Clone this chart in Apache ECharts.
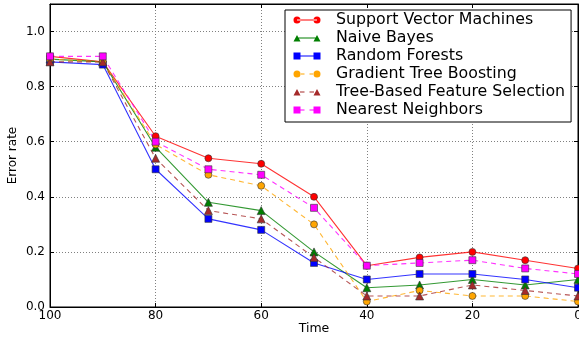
<!DOCTYPE html>
<html>
<head>
<meta charset="utf-8">
<script src="https://cdn.jsdelivr.net/npm/echarts@6/dist/echarts.min.js"></script>
<style>html,body{margin:0;padding:0;background:#fff}#c{width:579px;height:337px}</style>
</head>
<body>
<div id="c"></div>
<script>
const times = [100, 90, 80, 70, 60, 50, 40, 30, 20, 10, 0];
const seriesNames = ['Support Vector Machines', 'Naive Bayes', 'Random Forests', 'Gradient Tree Boosting', 'Tree-Based Feature Selection', 'Nearest Neighbors'];
const svm  = [0.91, 0.89, 0.62, 0.54, 0.52, 0.40, 0.15, 0.18, 0.20, 0.17, 0.14];
const nb   = [0.90, 0.89, 0.58, 0.38, 0.35, 0.20, 0.07, 0.08, 0.10, 0.08, 0.10];
const rf   = [0.89, 0.88, 0.50, 0.32, 0.28, 0.16, 0.10, 0.12, 0.12, 0.10, 0.07];
const gtb  = [0.90, 0.89, 0.59, 0.48, 0.44, 0.30, 0.02, 0.06, 0.04, 0.04, 0.02];
const tbfs = [0.89, 0.89, 0.54, 0.35, 0.32, 0.18, 0.04, 0.04, 0.08, 0.06, 0.04];
const nn   = [0.91, 0.91, 0.60, 0.50, 0.48, 0.36, 0.15, 0.16, 0.17, 0.14, 0.12];
const xTicks = [0, 20, 40, 60, 80, 100];
const yTicks = [0.0, 0.2, 0.4, 0.6, 0.8, 1.0];

const values = [svm, nb, rf, gtb, tbfs, nn];
const colors = ['#ff0000', '#007f00', '#0000ff', '#ffa500', '#a52a2a', '#ff00ff'];
const symbols = ['circle', 'triangle', 'rect', 'circle', 'triangle', 'rect'];
const dashed = [false, false, false, true, true, true];

const circ = (cx) => `M${cx-3.5},4 a3.5,3.5 0 1,0 7,0 a3.5,3.5 0 1,0 -7,0 Z `;
const tri = (cx) => `M${cx-3.5},7.5 L${cx},1 L${cx+3.5},7.5 Z `;
const sq = (cx) => `M${cx-3.5},0.5 L${cx+3.5},0.5 L${cx+3.5},7.5 L${cx-3.5},7.5 Z `;
const solidLine = 'M4,3.6 L24,3.6 L24,4.5 L4,4.5 Z ';
const dashLine = 'M7,3.6 L11.5,3.6 L11.5,4.5 L7,4.5 Z M16.5,3.6 L21,3.6 L21,4.5 L16.5,4.5 Z ';
function iconFor(i) {
  const m = symbols[i] === 'circle' ? circ : symbols[i] === 'triangle' ? tri : sq;
  return 'path://M0,0 M28,8 ' + m(4) + (dashed[i] ? dashLine : solidLine) + m(24);
}

const font = 'DejaVu Sans';
const chart = echarts.init(document.getElementById('c'));
chart.setOption({
  animation: false,
  backgroundColor: '#fff',
  grid: { left: 50, right: 1, top: 4, bottom: 30, outerBoundsMode: 'none', containLabel: false,
    show: true, borderColor: '#000', borderWidth: 1, backgroundColor: 'transparent' },
  legend: {
    orient: 'vertical', left: 285, top: 10,
    backgroundColor: '#fff', borderColor: '#000', borderWidth: 1,
    padding: [2, 6, 4, 8], itemGap: 2, itemWidth: 28, itemHeight: 8,
    itemStyle: { borderWidth: 0 },
    textStyle: { fontFamily: font, fontSize: 15.8, color: '#000', lineHeight: 16, padding: [0, 0, 0, 10] },
    data: seriesNames.map((n, i) => ({ name: n, icon: iconFor(i) }))
  },
  xAxis: [{
    type: 'value', min: 0, max: 100, interval: 20, inverse: true,
    name: 'Time', nameLocation: 'middle', nameGap: 15, nameMoveOverlap: false,
    nameTextStyle: { fontFamily: font, fontSize: 12.5, color: '#000' },
    axisLine: { show: true, onZero: false, lineStyle: { color: '#000', width: 1 } },
    axisTick: { show: true, inside: true, length: 4, lineStyle: { color: '#000' } },
    axisLabel: { fontFamily: font, fontSize: 12, color: '#000', margin: 3 },
    splitLine: { show: true, lineStyle: { color: '#808080', type: [1, 2], width: 1 } }
  }, {
    type: 'value', min: 0, max: 100, interval: 20, inverse: true, position: 'top',
    axisLine: { show: true, onZero: false, lineStyle: { color: '#000' } },
    axisTick: { show: true, inside: true, length: 4, lineStyle: { color: '#000' } },
    axisLabel: { show: false }, splitLine: { show: false }
  }],
  yAxis: [{
    type: 'value', min: 0, max: 1.1, interval: 0.2,
    name: 'Error rate', nameLocation: 'middle', nameGap: 31, nameMoveOverlap: false,
    nameTextStyle: { fontFamily: font, fontSize: 12, color: '#000' },
    axisLine: { show: true, onZero: false, lineStyle: { color: '#000', width: 1 } },
    axisTick: { show: true, inside: true, length: 4, lineStyle: { color: '#000' } },
    axisLabel: { fontFamily: font, fontSize: 12, color: '#000', margin: 5, showMaxLabel: false,
      formatter: v => (yTicks.some(t => Math.abs(t - v) < 1e-9) ? v.toFixed(1) : '') },
    splitLine: { show: true, lineStyle: { color: '#808080', type: [1, 2], width: 1 } }
  }, {
    type: 'value', min: 0, max: 1.1, interval: 0.2, position: 'right',
    axisLine: { show: true, onZero: false, lineStyle: { color: '#000' } },
    axisTick: { show: true, inside: true, length: 4, lineStyle: { color: '#000' } },
    axisLabel: { show: false }, splitLine: { show: false }
  }],
  series: seriesNames.map((n, i) => ({
    name: n, type: 'line', xAxisIndex: 0, yAxisIndex: 0,
    data: times.map((t, k) => [t, values[i][k]]),
    symbol: symbols[i], symbolSize: symbols[i] === 'triangle' ? 8 : 7,
    color: colors[i],
    itemStyle: { color: colors[i], borderColor: '#333', borderWidth: 0.6 },
    lineStyle: { color: colors[i], width: 1.1, opacity: 0.8, type: dashed[i] ? [5, 4] : 'solid' },
    emphasis: { disabled: true }
  }))
});
</script>
</body>
</html>
